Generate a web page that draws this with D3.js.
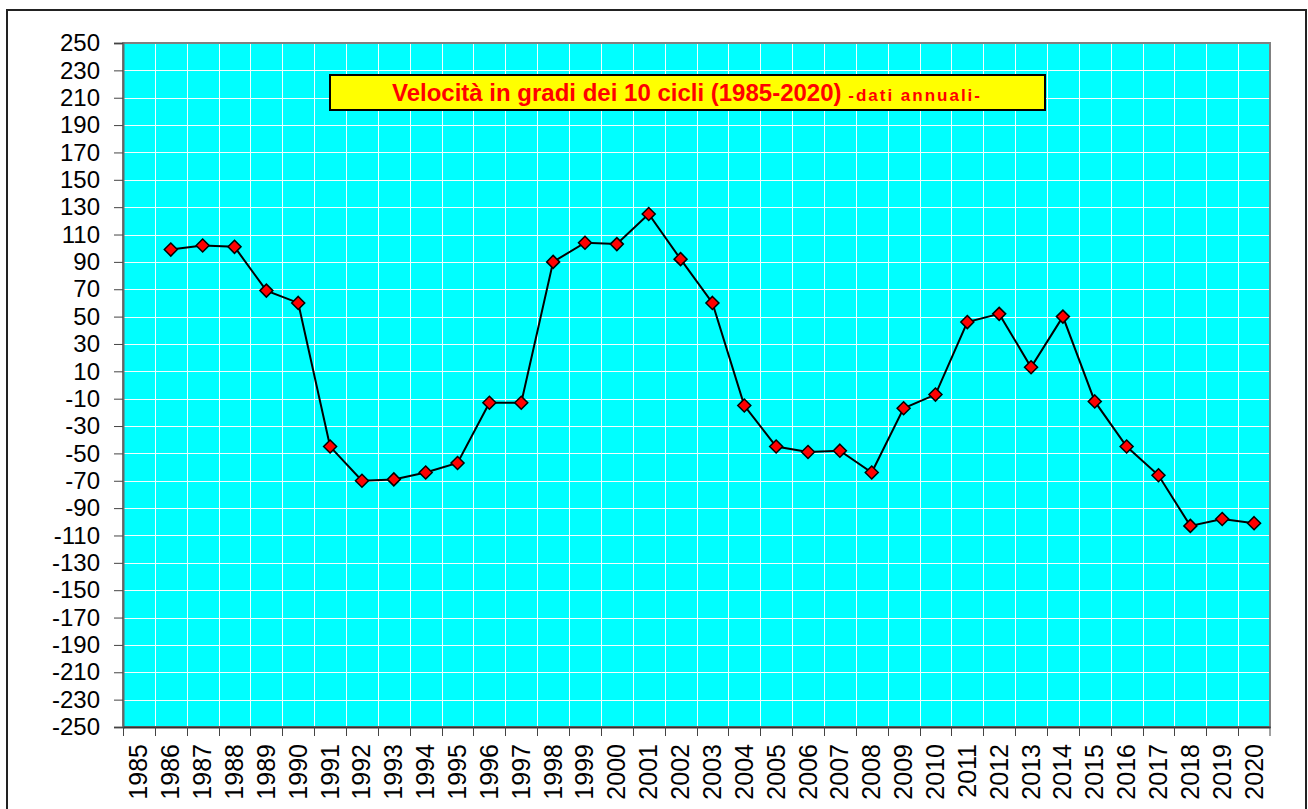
<!DOCTYPE html>
<html>
<head>
<meta charset="utf-8">
<script src="https://cdn.jsdelivr.net/npm/d3@7"></script>
<style>
  body { margin: 0; background: #fff; }
  svg { display: block; font-family: "Liberation Sans", Arial, sans-serif; }
</style>
</head>
<body>
<svg id="chart"></svg>
<script>
// categories on the x axis (1985 has no value)
const years = d3.range(1985, 2021).map(String);

// velocity in degrees
const velocity = [
    null, 99, 102, 101, 69, 60, -45, -70, -69, -64,
    -57, -13, -13, 90, 104, 103, 125, 92, 60, -15,
    -45, -49, -48, -64, -17, -7, 46, 52, 13, 50,
    -12, -45, -66, -103, -98, -101
];

const yTicks = d3.range(-250, 251, 20);

const titleMain = "Velocità in gradi dei 10 cicli (1985-2020)";
const titleSub = "-dati annuali-";

const width = 1308;
const height = 809;
const plotLeft = 123, plotRight = 1270, plotTop = 43, plotBottom = 727;

const svg = d3.select('#chart')
    .attr('width', width)
    .attr('height', height);

// outer frame
svg.append('rect')
    .attr('x', 7).attr('y', 10)
    .attr('width', 1299).attr('height', 830)
    .attr('fill', 'none')
    .attr('stroke', '#222')
    .attr('stroke-width', 2);

const x = d3.scaleBand()
    .domain(years)
    .range([plotLeft, plotRight])
    .padding(0);

const y = d3.scaleLinear()
    .domain([-250, 250])
    .range([plotBottom, plotTop]);

// plot background
svg.append('rect')
    .attr('x', plotLeft).attr('y', plotTop)
    .attr('width', plotRight - plotLeft).attr('height', plotBottom - plotTop)
    .attr('fill', '#00ffff');

// grid lines
svg.append('g')
    .selectAll('line')
    .data(yTicks)
    .enter()
    .append('line')
    .attr('x1', plotLeft).attr('x2', plotRight)
    .attr('y1', d => Math.round(y(d)) + 0.5)
    .attr('y2', d => Math.round(y(d)) + 0.5)
    .attr('stroke', '#f0ffff')
    .attr('stroke-width', 1);

svg.append('g')
    .selectAll('line')
    .data(years.slice(1))
    .enter()
    .append('line')
    .attr('x1', d => Math.round(x(d)) + 0.5)
    .attr('x2', d => Math.round(x(d)) + 0.5)
    .attr('y1', plotTop).attr('y2', plotBottom)
    .attr('stroke', '#f0ffff')
    .attr('stroke-width', 1);

// plot border (grey)
svg.append('rect')
    .attr('x', plotLeft).attr('y', plotTop)
    .attr('width', plotRight - plotLeft).attr('height', plotBottom - plotTop)
    .attr('fill', 'none')
    .attr('stroke', '#808080')
    .attr('stroke-width', 2);

// y axis (plain hyphen for negatives, like the original)
const yAxis = svg.append('g')
    .attr('transform', `translate(${plotLeft},0)`)
    .call(d3.axisLeft(y).tickValues(yTicks).tickFormat(d => String(d)).tickSize(9).tickPadding(14));
yAxis.select('.domain').attr('stroke', '#666').attr('stroke-width', 2);
yAxis.selectAll('.tick line').attr('stroke', '#444');
yAxis.selectAll('.tick text')
    .attr('font-size', 24)
    .attr('font-family', '"Liberation Sans", Arial, sans-serif')
    .attr('fill', '#000');

// x axis
const xAxis = svg.append('g')
    .attr('transform', `translate(0,${plotBottom})`)
    .call(d3.axisBottom(x).tickSize(0));
xAxis.select('.domain').attr('stroke', '#333').attr('stroke-width', 2);
xAxis.selectAll('.tick text')
    .attr('font-size', 25)
    .attr('font-family', '"Liberation Sans", Arial, sans-serif')
    .attr('fill', '#000')
    .attr('text-anchor', 'end')
    .attr('transform', 'rotate(-90)')
    .attr('x', -17)
    .attr('y', 0)
    .attr('dy', '0.34em');

// x tick marks at the category boundaries
svg.append('g')
    .selectAll('line')
    .data(years.concat(['end']))
    .enter()
    .append('line')
    .attr('x1', d => d === 'end' ? plotRight : Math.round(x(d)) + 0.5)
    .attr('x2', d => d === 'end' ? plotRight : Math.round(x(d)) + 0.5)
    .attr('y1', plotBottom).attr('y2', plotBottom + 9)
    .attr('stroke', '#444');

// series line
const points = years
    .map((yr, i) => ({ year: yr, value: velocity[i] }))
    .filter(d => d.value !== null);

const line = d3.line()
    .x(d => x(d.year) + x.bandwidth() / 2)
    .y(d => y(d.value));

svg.append('path')
    .datum(points)
    .attr('d', line)
    .attr('fill', 'none')
    .attr('stroke', '#000')
    .attr('stroke-width', 2);

// diamond markers
svg.append('g')
    .selectAll('path')
    .data(points)
    .enter()
    .append('path')
    .attr('d', 'M0,-6.5L6.5,0L0,6.5L-6.5,0Z')
    .attr('transform', d => `translate(${x(d.year) + x.bandwidth() / 2},${y(d.value)})`)
    .attr('fill', '#ff0000')
    .attr('stroke', '#000')
    .attr('stroke-width', 1.5);

// title box
svg.append('rect')
    .attr('x', 330).attr('y', 75)
    .attr('width', 715).attr('height', 35)
    .attr('fill', '#ffff00')
    .attr('stroke', '#000')
    .attr('stroke-width', 2);

const title = svg.append('text')
    .attr('x', 687)
    .attr('y', 101)
    .attr('text-anchor', 'middle')
    .attr('fill', '#ff0000')
    .attr('font-weight', 'bold');

title.append('tspan')
    .attr('font-size', 24)
    .text(titleMain + ' ');

title.append('tspan')
    .attr('font-size', 17)
    .attr('letter-spacing', 2)
    .text(titleSub);
</script>
</body>
</html>
